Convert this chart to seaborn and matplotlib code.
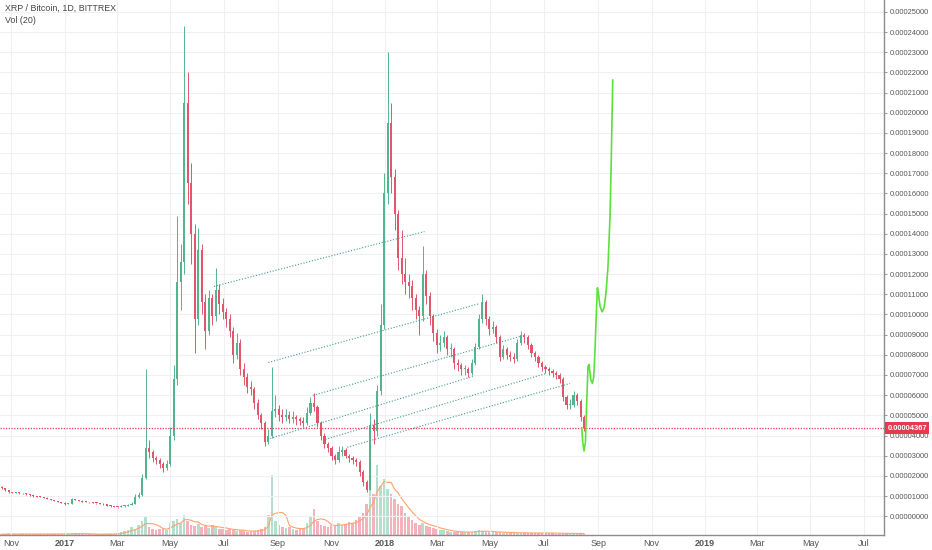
import numpy as np
import pandas as pd
import matplotlib
matplotlib.use("Agg")
import matplotlib.pyplot as plt
import matplotlib.transforms as mtransforms
import seaborn as sns

# prices are in units of 0.00001 BTC, one candle = 4 days
first_day = "2016-10-21"
first_open = 1.45
close = [
    1.40, 1.30, 1.18, 1.16, 1.17, 1.15, 1.13, 1.08, 1.05, 1.00,
    0.97, 0.95, 0.92, 0.85, 0.80, 0.75, 0.70, 0.66, 0.60, 0.62,
    0.85, 0.80, 0.76, 0.72, 0.70, 0.68, 0.65, 0.64, 0.62, 0.58,
    0.52, 0.50, 0.46, 0.45, 0.50, 0.52, 0.55, 0.60, 0.95, 1.05,
    1.90, 3.40, 3.20, 2.90, 2.80, 2.60, 2.40, 2.60, 4.00, 6.80,
    11.6, 12.6, 20.5, 16.5, 14.0, 9.8, 13.2, 10.6, 9.2, 10.8,
    9.9, 11.2, 10.5, 10.1, 9.8, 9.2, 8.0, 8.6, 7.3, 6.9,
    6.4, 6.3, 5.6, 5.0, 4.6, 3.7, 4.0, 5.2, 5.3, 5.0,
    4.9, 5.0, 4.8, 4.9, 4.8, 4.7, 4.6, 5.1, 5.6, 5.4,
    4.6, 4.0, 3.6, 3.4, 3.0, 2.8, 3.2, 3.3, 3.0, 2.9,
    2.8, 2.7, 2.2, 1.7, 1.3, 4.5, 4.2, 6.2, 9.5, 16.0,
    19.5, 16.8, 15.0, 12.8, 12.0, 11.6, 11.4, 10.8, 10.2, 9.9,
    12.0, 10.9, 9.9, 9.1, 8.5, 8.6, 8.9, 8.3, 8.3, 7.6,
    7.5, 7.3, 7.3, 7.1, 7.6, 8.4, 9.8, 10.6, 9.8, 9.3,
    9.4, 8.9, 7.9, 8.3, 8.0, 7.9, 7.8, 8.6, 9.0, 8.9,
    8.5, 8.1, 7.9, 7.6, 7.4, 7.3, 7.2, 7.1, 7.0, 6.8,
    5.9, 5.5, 5.5, 6.0, 5.7, 4.9, 4.367]
high = [
    1.48, 1.42, 1.32, 1.21, 1.20, 1.19, 1.17, 1.15, 1.10, 1.07,
    1.02, 0.99, 0.97, 0.94, 0.87, 0.82, 0.77, 0.72, 0.68, 0.66,
    0.90, 0.87, 0.82, 0.78, 0.74, 0.72, 0.70, 0.67, 0.66, 0.64,
    0.60, 0.54, 0.52, 0.48, 0.53, 0.56, 0.60, 0.70, 1.10, 1.20,
    2.10, 7.30, 3.80, 3.30, 3.00, 2.90, 2.70, 2.80, 4.40, 7.50,
    14.9, 13.5, 24.3, 22.0, 17.5, 14.5, 14.3, 13.5, 11.0, 11.2,
    11.0, 12.3, 11.5, 10.8, 10.3, 10.0, 9.4, 9.1, 8.8, 7.6,
    7.1, 6.7, 6.4, 5.8, 5.1, 4.7, 4.3, 7.4, 6.0, 5.5,
    5.3, 5.3, 5.2, 5.2, 5.0, 4.9, 4.9, 5.4, 5.9, 6.1,
    5.5, 4.7, 4.1, 3.7, 3.5, 3.1, 3.5, 3.5, 3.4, 3.1,
    3.0, 2.9, 2.8, 2.3, 1.8, 5.1, 4.8, 6.5, 10.5, 17.0,
    23.0, 20.5, 17.2, 15.2, 14.2, 12.8, 12.0, 11.7, 11.0, 10.4,
    13.4, 12.2, 11.1, 10.0, 9.3, 9.0, 9.2, 9.0, 8.6, 8.4,
    7.8, 7.6, 7.5, 7.4, 7.8, 8.6, 10.0, 11.0, 10.7, 9.9,
    9.7, 9.5, 9.0, 8.5, 8.4, 8.2, 8.1, 8.8, 9.2, 9.1,
    9.0, 8.6, 8.2, 8.0, 7.7, 7.5, 7.4, 7.3, 7.2, 7.1,
    6.9, 6.0, 5.8, 6.2, 6.1, 5.8, 5.0]
low = [
    1.37, 1.27, 1.15, 1.13, 1.14, 1.12, 1.10, 1.05, 1.02, 0.97,
    0.95, 0.93, 0.90, 0.83, 0.78, 0.73, 0.68, 0.64, 0.57, 0.58,
    0.61, 0.78, 0.74, 0.70, 0.68, 0.66, 0.63, 0.62, 0.60, 0.56,
    0.50, 0.48, 0.44, 0.43, 0.44, 0.48, 0.50, 0.53, 0.58, 0.90,
    1.00, 1.85, 2.90, 2.70, 2.60, 2.40, 2.20, 2.30, 2.50, 3.80,
    6.50, 10.2, 12.0, 15.5, 12.5, 8.1, 9.5, 10.0, 8.3, 9.0,
    9.5, 9.7, 10.0, 9.8, 9.4, 8.9, 7.6, 7.8, 7.0, 6.5,
    6.1, 6.0, 5.3, 4.8, 4.3, 3.5, 3.6, 3.9, 4.9, 4.7,
    4.6, 4.7, 4.6, 4.6, 4.5, 4.5, 4.4, 4.5, 5.0, 5.2,
    4.4, 3.8, 3.4, 3.2, 2.8, 2.6, 2.7, 3.0, 2.9, 2.7,
    2.6, 2.5, 2.0, 1.5, 1.2, 1.3, 3.6, 4.0, 6.0, 9.3,
    15.5, 16.0, 14.2, 12.2, 11.5, 11.0, 10.8, 10.2, 9.8, 9.0,
    9.7, 10.5, 9.5, 8.7, 8.1, 8.2, 8.4, 8.0, 7.9, 7.3,
    7.2, 7.0, 7.0, 6.9, 7.0, 7.5, 8.3, 9.6, 9.5, 9.0,
    9.1, 8.6, 7.7, 7.8, 7.8, 7.7, 7.6, 7.7, 8.5, 8.6,
    8.3, 7.9, 7.7, 7.4, 7.2, 7.1, 7.0, 6.9, 6.8, 6.6,
    5.7, 5.3, 5.3, 5.4, 5.5, 4.7, 4.2]
volume = [
    1, 1, 1.5, 1, 1, 1, 1.5, 1, 1, 1,
    1, 1, 1, 1.5, 1, 1, 1, 1, 1.5, 1.5,
    2, 1.5, 1, 1, 1, 1, 1, 1, 1, 1,
    1, 1, 1.5, 2, 3, 4, 5, 8, 6, 10,
    14, 18, 8, 6, 5, 6, 7, 5, 12, 14,
    16, 12, 20, 14, 10, 9, 11, 8, 9, 7,
    10, 8, 6, 6, 5, 6, 5, 4, 5, 4,
    3, 4, 4, 5, 6, 8, 20, 58, 14, 10,
    8, 7, 8, 6, 5, 6, 7, 12, 18, 25,
    14, 10, 9, 8, 10, 9, 12, 10, 11, 13,
    12, 15, 18, 22, 30, 50, 40, 68, 48, 55,
    45, 40, 35, 30, 28, 22, 18, 15, 12, 10,
    12, 9, 8, 7, 6, 5, 5, 4, 3, 3,
    3, 3, 3, 3, 3, 4, 5, 4, 3, 3,
    3, 3, 3, 2.5, 2.5, 2.5, 2, 2, 2.5, 2,
    2, 2, 2, 2, 2, 2, 2, 2, 1.5, 1.5,
    2, 2, 1.5, 1.5, 1.5, 2, 1.5]

last_price = 4.367

# dotted channel lines drawn on the chart
trend_start = ["2017-06-20", "2017-08-21", "2017-10-11", "2017-08-20", "2017-10-25", "2017-11-19"]
trend_start_px = [11.39, 7.62, 5.99, 3.81, 3.81, 3.42]
trend_end = ["2018-02-15", "2018-04-19", "2018-06-04", "2018-04-11", "2018-07-04", "2018-07-31"]
trend_end_px = [14.11, 10.54, 8.91, 6.93, 7.08, 6.58]

# hand drawn green projection (days after 2018-01-01)
proj_day = [224.4, 225.5, 227.0, 228.5, 230.0, 231.5, 232.7, 234.6, 236.5, 238.0, 239.5,
            241.0, 242.2, 243.3, 245.2, 247.5, 249.8, 252.0, 254.3, 256.6, 258.0, 259.7]
proj_px = [4.39, 3.65, 3.23, 3.65, 5.63, 7.44, 7.52, 6.78, 6.58, 6.90, 8.27,
           10.08, 11.32, 11.07, 10.41, 10.13, 10.33, 11.07, 12.39, 14.87, 17.67, 21.63]

UP = "#53b58e"
DOWN = "#e2566b"

df = pd.DataFrame({"close": close, "high": high, "low": low, "volume": volume})
df["date"] = pd.date_range(first_day, periods=len(df), freq="4D")
df["open"] = [first_open] + close[:-1]
df["up"] = df["close"] >= df["open"]
df["vol_ma"] = df["volume"].rolling(5, min_periods=1).mean()

sns.set_theme(style="white")
plt.rcParams["font.family"] = ["Liberation Sans", "DejaVu Sans"]

fig = plt.figure(figsize=(9.32, 5.5), dpi=100)
rect = [0, 0.027, 0.9485, 0.973]
ax_vol = fig.add_axes(rect)
ax = fig.add_axes(rect, sharex=ax_vol)
ax.patch.set_visible(False)

# volume pane
vcol = np.where(df["up"], "#b3e0cd", "#f6b2ba")
ax_vol.bar(df["date"], df["volume"], width=3.0, color=vcol, linewidth=0)
sns.lineplot(x=df["date"], y=df["vol_ma"], ax=ax_vol, color="#ffa36b", lw=0.8)
ax_vol.set_ylim(0, 520)
ax_vol.axis("off")

# candles
colors = np.where(df["up"], UP, DOWN)
ax.vlines(df["date"], df["low"], df["high"], colors=colors, lw=0.7, zorder=3)
body_lo = np.minimum(df["open"], df["close"])
body_h = np.maximum(np.abs(df["close"] - df["open"]), 0.04)
ax.bar(df["date"], body_h, bottom=body_lo, width=2.4, color=colors, linewidth=0, zorder=3)

# channel lines
for s, e, ps, pe in zip(trend_start, trend_end, trend_start_px, trend_end_px):
    ax.plot([pd.Timestamp(s), pd.Timestamp(e)], [ps, pe], color="#3f9c8a",
            lw=0.8, ls=(0, (1, 1.6)), zorder=4)

# projection
proj_dates = pd.Timestamp("2018-01-01") + pd.to_timedelta(proj_day, unit="D")
sns.lineplot(x=proj_dates, y=proj_px, ax=ax, color="#5ddf3c", lw=1.2, sort=False, zorder=5)

# last price line + label
ax.axhline(last_price, color="#e8394f", lw=0.9, ls=(0, (1, 1.2)), zorder=4)
trans = mtransforms.blended_transform_factory(ax.transAxes, ax.transData)
ax.text(1.004, last_price, "0.00004367", transform=trans, color="white", fontsize=5.4,
        fontweight="bold", va="center", ha="left", clip_on=False, zorder=10,
        bbox=dict(boxstyle="square,pad=0.3", fc="#e8394f", ec="none"))

# axes formatting
ax.set_ylim(-0.94, 25.59)
ax.set_xlim(pd.Timestamp("2016-10-19"), pd.Timestamp("2019-07-24"))
ax.set_yticks(np.arange(0, 26))
ax.set_yticklabels([f"{v * 1e-5:.8f}" for v in np.arange(0, 26)])
ax.yaxis.tick_right()
ticks = pd.date_range("2016-11-01", "2019-07-01", freq="2MS")
ax.set_xticks(ticks)
ax.set_xticklabels([str(t.year) if t.month == 1 else t.strftime("%b") for t in ticks])
for lab, t in zip(ax.get_xticklabels(), ticks):
    if t.month == 1:
        lab.set_fontweight("bold")
ax.tick_params(axis="y", direction="out", length=2.5, width=0.6, color="#888888",
               labelsize=5.4, labelcolor="#555555", pad=1.5)
ax.tick_params(axis="x", direction="out", length=2, width=0.6, color="#888888",
               labelsize=6.5, labelcolor="#555555", pad=0.8)
ax.grid(True, color="#eef0f3", lw=0.8, zorder=0)
ax.set_axisbelow(True)
for side in ["left", "top"]:
    ax.spines[side].set_visible(False)
for side in ["right", "bottom"]:
    ax.spines[side].set_color("#8c8c8c")
    ax.spines[side].set_linewidth(1.0)
ax.set_xlabel("")
ax.set_ylabel("")

ax.text(0.006, 0.985, "XRP / Bitcoin, 1D, BITTREX", transform=ax.transAxes,
        fontsize=6.4, color="#444444", va="center")
ax.text(0.006, 0.962, "Vol (20)", transform=ax.transAxes,
        fontsize=6.4, color="#444444", va="center")

fig.savefig("out.png", dpi=100)
